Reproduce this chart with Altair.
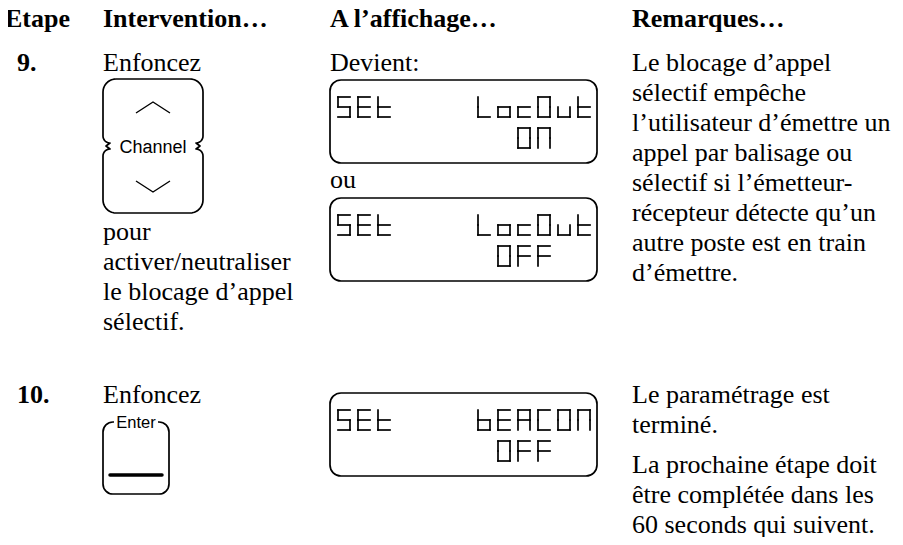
import altair as alt
import pandas as pd
import numpy as np

W, H = 903, 545

# ---------------- content ----------------
headers = ["Etape", "Intervention…", "A l’affichage…", "Remarques…"]
steps = ["9.", "10."]
press_word = "Enfoncez"
step9_after = ["pour", "activer/neutraliser", "le blocage d’appel", "sélectif."]
display_words = ["Devient:", "ou"]
remarks9 = [
    "Le blocage d’appel",
    "sélectif empêche",
    "l’utilisateur d’émettre un",
    "appel par balisage ou",
    "sélectif si l’émetteur-",
    "récepteur détecte qu’un",
    "autre poste est en train",
    "d’émettre.",
]
remarks10a = ["Le paramétrage est", "terminé."]
remarks10b = ["La prochaine étape doit", "être complétée dans les", "60 seconds qui suivent."]
channel_label = "Channel"
enter_label = "Enter"
lcd_screens = [
    ["SEt    LocOut", "         On"],
    ["SEt    LocOut", "        OFF"],
    ["SEt    bEACOn", "        OFF"],
]
# 7-segment map for the LCD characters
SEG = {
    "S": "afgcd", "E": "afged", "t": "fegd", "L": "fed", "o": "gcde",
    "c": "ged", "O": "abcdef", "u": "cde", "b": "fegcd", "A": "abcefg",
    "C": "afed", "n": "abcef", "F": "afge",
}

# ---------------- layout ----------------
COL_X = [5, 103, 330, 632]
HEAD_Y = 27
ROW9_Y = 71
ROW10_Y = 403
LEAD = 30
BTN = dict(L=103, R=203, T=79, B=213)
LCD_X0, LCD_X1 = 330, 597
LCD_TOPS = [80, 198, 393]
LCD_H = 83
ENTER = dict(L=103, R=169, T=422, B=494)
FS = 26

xs = alt.Scale(domain=[8, W - 8], nice=False, zero=False)
ys = alt.Scale(domain=[8, H - 8], nice=False, zero=False, reverse=True)
X = lambda f="x": alt.X(f"{f}:Q", scale=xs, axis=None)
Y = lambda f="y": alt.Y(f"{f}:Q", scale=ys, axis=None)

# ---------- text tables ----------
bold_rows = [dict(x=COL_X[i], y=HEAD_Y, t=h) for i, h in enumerate(headers)]
bold_rows += [dict(x=17, y=ROW9_Y, t=steps[0]), dict(x=17, y=ROW10_Y, t=steps[1])]

reg = []
reg.append(dict(x=COL_X[1], y=ROW9_Y, t=press_word))
for k, s in enumerate(step9_after):
    reg.append(dict(x=COL_X[1], y=240 + k * LEAD, t=s))
reg.append(dict(x=COL_X[2], y=ROW9_Y, t=display_words[0]))
reg.append(dict(x=COL_X[2], y=188, t=display_words[1]))
for k, s in enumerate(remarks9):
    reg.append(dict(x=COL_X[3], y=ROW9_Y + k * LEAD, t=s))
reg.append(dict(x=COL_X[1], y=ROW10_Y, t=press_word))
for k, s in enumerate(remarks10a):
    reg.append(dict(x=COL_X[3], y=ROW10_Y + k * LEAD, t=s))
for k, s in enumerate(remarks10b):
    reg.append(dict(x=COL_X[3], y=473 + k * LEAD, t=s))

sans_rows = [
    dict(x=(BTN["L"] + BTN["R"]) / 2, y=(BTN["T"] + BTN["B"]) / 2 + 6.5, t=channel_label, s=18),
    dict(x=(ENTER["L"] + ENTER["R"]) / 2, y=ENTER["T"] + 5.5, t=enter_label, s=16.5),
]

serif = "Liberation Serif"
t_bold = alt.Chart(pd.DataFrame(bold_rows)).mark_text(
    align="left", baseline="alphabetic", font=serif, fontSize=FS, fontWeight="bold", color="black"
).encode(x=X(), y=Y(), text="t:N")
t_reg = alt.Chart(pd.DataFrame(reg)).mark_text(
    align="left", baseline="alphabetic", font=serif, fontSize=FS, color="black"
).encode(x=X(), y=Y(), text="t:N")
t_sans = alt.Chart(pd.DataFrame(sans_rows)).mark_text(
    align="center", baseline="alphabetic", font="Liberation Sans", color="black"
).encode(x=X(), y=Y(), text="t:N", size=alt.Size("s:Q", scale=None, legend=None))

# ---------- boxes ----------
boxes = [dict(x=LCD_X0, x2=LCD_X1, y=t, y2=t + LCD_H) for t in LCD_TOPS]
lcd_rect = alt.Chart(pd.DataFrame(boxes)).mark_rect(
    fill="white", stroke="black", strokeWidth=1.7, cornerRadius=11
).encode(x=X(), x2="x2", y=Y(), y2="y2")

enter_rect = alt.Chart(pd.DataFrame([dict(x=ENTER["L"], x2=ENTER["R"], y=ENTER["T"], y2=ENTER["B"])])).mark_rect(
    fill="white", stroke="black", strokeWidth=1.7, cornerRadius=10
).encode(x=X(), x2="x2", y=Y(), y2="y2")
enter_mask = alt.Chart(pd.DataFrame([dict(x=ENTER["L"] + 11, x2=ENTER["R"] - 11, y=ENTER["T"] - 8, y2=ENTER["T"] + 6)])).mark_rect(
    fill="white", strokeWidth=0
).encode(x=X(), x2="x2", y=Y(), y2="y2")
enter_bar = alt.Chart(pd.DataFrame([dict(x=ENTER["L"] + 7, x2=ENTER["R"] - 7, y=ENTER["T"] + 53)])).mark_rule(
    strokeWidth=3.5, color="black", strokeCap="round"
).encode(x=X(), x2="x2", y=Y())

# ---------- channel rocker outline ----------
def arc(cx, cy, r, a0, a1, n=10):
    a = np.radians(np.linspace(a0, a1, n))
    return list(zip(cx + r * np.cos(a), cy + r * np.sin(a)))

L, R, T, B = BTN["L"], BTN["R"], BTN["T"], BTN["B"]
M = (T + B) / 2
r = 13
pts = [(L + r, T), (R - r, T)]
pts += arc(R - r, T + r, r, -90, 0)
pts += [(R, M - 10)]
pts += arc(R - 7, M - 10, 7, 0, 90)
pts += [(R - 3, M)]
pts += arc(R - 7, M + 10, 7, -90, 0)
pts += [(R, B - r)]
pts += arc(R - r, B - r, r, 0, 90)
pts += [(L + r, B)]
pts += arc(L + r, B - r, r, 90, 180)
pts += [(L, M + 10)]
pts += arc(L + 7, M + 10, 7, 180, 270)
pts += [(L + 3, M)]
pts += arc(L + 7, M - 10, 7, 90, 180)
pts += [(L, T + r)]
pts += arc(L + r, T + r, r, 180, 270)
outline = pd.DataFrame([dict(i=i, x=p[0], y=p[1], g="outline") for i, p in enumerate(pts)])
chev = []
cx = (L + R) / 2
for g, (ya, yb) in {"up": (113, 102), "down": (181, 192)}.items():
    for i, (px, py) in enumerate([(cx - 17, ya), (cx, yb), (cx + 17, ya)]):
        chev.append(dict(i=i, x=px, y=py, g=g))
outline_chart = alt.Chart(outline).mark_line(color="black", strokeWidth=1.7, strokeJoin="round").encode(
    x=X(), y=Y(), order="i:Q", detail="g:N")
chev_chart = alt.Chart(pd.DataFrame(chev)).mark_line(color="black", strokeWidth=1.4).encode(
    x=X(), y=Y(), order="i:Q", detail="g:N")

# ---------- LCD segments ----------
GW, GH, PITCH, COL0 = 12, 20, 20, 338
LINE_OFF = [17, 48]
segs = []
for si, screen in enumerate(lcd_screens):
    for li, line in enumerate(screen):
        y0 = LCD_TOPS[si] + LINE_OFF[li]
        for col, ch in enumerate(line):
            if ch == " ":
                continue
            x0 = COL0 + col * PITCH
            ym, y1, x1 = y0 + GH / 2, y0 + GH, x0 + GW
            geo = {
                "a": (x0, y0, x1, y0), "b": (x1, y0, x1, ym), "c": (x1, ym, x1, y1),
                "d": (x0, y1, x1, y1), "e": (x0, ym, x0, y1), "f": (x0, y0, x0, ym),
                "g": (x0, ym, x1, ym),
            }
            for s in SEG[ch]:
                a, b_, c, d = geo[s]
                segs.append(dict(x=a, y=b_, x2=c, y2=d))
seg_chart = alt.Chart(pd.DataFrame(segs)).mark_rule(color="black", strokeWidth=1.7, strokeCap="square").encode(
    x=X(), y=Y(), x2="x2", y2="y2")

chart = alt.layer(
    lcd_rect, enter_rect, enter_mask, enter_bar, outline_chart, chev_chart, seg_chart,
    t_bold, t_reg, t_sans,
).properties(width=W - 16, height=H - 16, padding=0, autosize="none", background="white").configure_view(stroke=None)

chart.save("out.html", embed_options={"renderer": "svg", "actions": False})
